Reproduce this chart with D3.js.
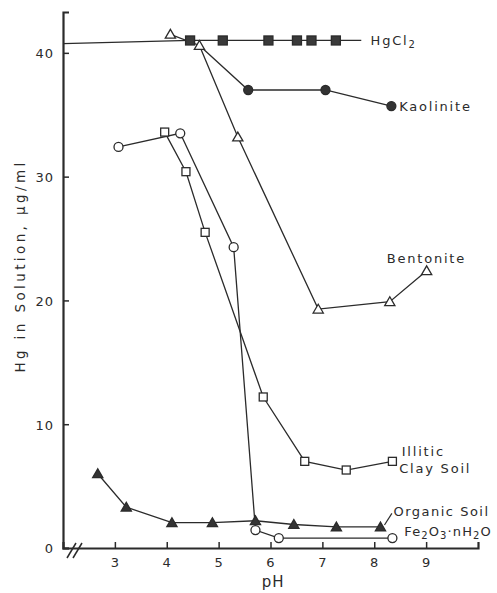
<!DOCTYPE html>
<html>
<head>
<meta charset="utf-8">
<script src="https://cdn.jsdelivr.net/npm/d3@7"></script>
<style>
  body { margin: 0; background: #fff; }
  text { font-family: "DejaVu Sans", sans-serif; fill: #2b2b2b; }
</style>
</head>
<body>
<div id="chart"></div>
<script>
// pH / Hg values
const hgcl2PH = [4.45, 5.08, 5.96, 6.51, 6.79, 7.26];
const hgcl2Val = [41.0, 41.0, 41.0, 41.0, 41.0, 41.0];
const hgcl2LinePH = [2.0, 4.45, 7.75];
const hgcl2LineVal = [40.75, 41.0, 41.0];

const kaolinitePH = [4.63, 5.57, 7.06, 8.33];
const kaoliniteVal = [40.6, 37.0, 37.0, 35.7];

const bentonitePH = [4.07, 4.63, 5.37, 6.92, 8.30, 9.01];
const bentoniteVal = [41.5, 40.6, 33.2, 19.3, 19.9, 22.4];

const illiticPH = [3.96, 4.37, 4.74, 5.86, 6.66, 7.46, 8.35];
const illiticVal = [33.6, 30.4, 25.5, 12.2, 7.0, 6.3, 7.0];

const ferricPH = [3.07, 4.26, 5.29, 5.71, 6.16, 8.35];
const ferricVal = [32.4, 33.5, 24.3, 1.45, 0.8, 0.8];

const organicPH = [2.67, 3.22, 4.10, 4.88, 5.71, 6.45, 7.27, 8.12];
const organicVal = [6.0, 3.3, 2.05, 2.05, 2.2, 1.9, 1.7, 1.7];

const xTicks = [3, 4, 5, 6, 7, 8, 9];
const yTicks = [0, 10, 20, 30, 40];

const margin = {top: 12, right: 19, bottom: 45, left: 63},
    width = 497 - margin.left - margin.right,
    height = 593 - margin.top - margin.bottom;

const x = d3.scaleLinear().domain([2, 10]).range([0, width]);
const y = d3.scaleLinear().domain([0, 43.3]).range([height, 0]);

const svg = d3.select("#chart").append("svg")
    .attr("width", width + margin.left + margin.right)
    .attr("height", height + margin.top + margin.bottom)
    .append("g")
    .attr("transform", "translate(" + margin.left + "," + margin.top + ")");

const ink = "#2b2b2b";
const zip = (a, b) => a.map((v, i) => [v, b[i]]);
const line = d3.line().x(d => x(d[0])).y(d => y(d[1]));

// Axes (ticks pointing inward)
const xAxis = svg.append("g")
    .attr("transform", "translate(0," + height + ")")
    .call(d3.axisBottom(x).tickValues(xTicks).tickSize(-6).tickPadding(10));
const yAxis = svg.append("g")
    .call(d3.axisLeft(y).tickValues(yTicks).tickSize(-6).tickPadding(9));

[xAxis, yAxis].forEach(a => {
  a.select(".domain").attr("stroke", ink).attr("stroke-width", 2.2);
  a.selectAll(".tick line").attr("stroke", ink).attr("stroke-width", 1.5);
  a.selectAll(".tick text").attr("font-size", 13).attr("fill", ink)
      .style("letter-spacing", "1px");
});
yAxis.selectAll(".tick text").attr("dy", "0.38em");

// axis break
[0, 6].forEach(off => {
  svg.append("line")
      .attr("x1", 4 + off).attr("y1", height + 10)
      .attr("x2", 13 + off).attr("y2", height - 5)
      .attr("stroke", ink).attr("stroke-width", 1.5);
});

// Axis titles
svg.append("text")
    .attr("x", x(6.05)).attr("y", height + 39)
    .attr("text-anchor", "middle").attr("font-size", 15)
    .style("letter-spacing", "1px")
    .text("pH");

svg.append("text")
    .attr("transform", "translate(" + (25 - margin.left) + "," + (266 - margin.top) + ") rotate(-90)")
    .attr("text-anchor", "middle").attr("font-size", 13.5)
    .style("letter-spacing", "3.4px")
    .text("Hg in Solution, μg/ml");

// Lines
const series = [
  zip(hgcl2LinePH, hgcl2LineVal),
  zip(kaolinitePH, kaoliniteVal),
  zip(bentonitePH, bentoniteVal),
  zip(illiticPH, illiticVal),
  zip(ferricPH, ferricVal),
  zip(organicPH, organicVal)
];
svg.selectAll(".series")
    .data(series)
    .enter().append("path")
    .attr("d", line)
    .attr("fill", "none")
    .attr("stroke", ink)
    .attr("stroke-width", 1.3);

// Markers
function squares(data, size, filled) {
  svg.selectAll(null).data(data).enter().append("rect")
      .attr("x", d => x(d[0]) - size / 2)
      .attr("y", d => y(d[1]) - size / 2)
      .attr("width", size).attr("height", size)
      .attr("fill", filled ? "#3a3a3a" : "#fff")
      .attr("stroke", ink).attr("stroke-width", 1.3);
}
function circles(data, r, filled) {
  svg.selectAll(null).data(data).enter().append("circle")
      .attr("cx", d => x(d[0])).attr("cy", d => y(d[1])).attr("r", r)
      .attr("fill", filled ? "#333" : "#fff")
      .attr("stroke", ink).attr("stroke-width", 1.3);
}
function triangles(data, s, filled) {
  const tri = d3.symbol().type(d3.symbolTriangle).size(s);
  svg.selectAll(null).data(data).enter().append("path")
      .attr("d", tri)
      .attr("transform", d => "translate(" + x(d[0]) + "," + (y(d[1]) + 1) + ")")
      .attr("fill", filled ? "#333" : "#fff")
      .attr("stroke", ink).attr("stroke-width", 1.3);
}

squares(zip(hgcl2PH, hgcl2Val), 9, true);
circles(zip(kaolinitePH, kaoliniteVal).slice(1), 4.5, true);
triangles(zip(bentonitePH, bentoniteVal), 45, false);
squares(zip(illiticPH, illiticVal), 8, false);
circles(zip(ferricPH, ferricVal), 4.5, false);
triangles(zip(organicPH, organicVal), 45, true);

// Series labels (subscripts shifted down with dy)
function label(px, val, parts, spacing) {
  const t = svg.append("text")
      .attr("x", x(px)).attr("y", y(val))
      .attr("dy", "0.35em")
      .attr("font-size", 13)
      .style("letter-spacing", (spacing || 1.8) + "px");
  let down = false;
  parts.forEach(p => {
    const s = t.append("tspan").text(p.t);
    if (p.sub) {
      s.attr("font-size", 10).attr("dy", down ? 0 : 3);
      down = true;
    } else if (down) {
      s.attr("dy", -3);
      down = false;
    }
  });
}
label(7.93, 41.0, [{t: "HgCl"}, {t: "2", sub: true}]);
label(8.48, 35.7, [{t: "Kaolinite"}]);
label(8.24, 23.4, [{t: "Bentonite"}]);
label(8.53, 7.8, [{t: "Illitic"}]);
label(8.48, 6.45, [{t: "Clay Soil"}]);
label(8.37, 2.95, [{t: "Organic Soil"}], 1.5);
label(8.58, 1.3, [{t: "Fe"}, {t: "2", sub: true}, {t: "O"}, {t: "3", sub: true}, {t: "·nH"}, {t: "2", sub: true}, {t: "O"}], 1.1);

// leader for Organic Soil
svg.append("line")
    .attr("x1", x(organicPH[7]) + 4).attr("y1", y(organicVal[7]) - 2)
    .attr("x2", x(8.34)).attr("y2", y(2.8))
    .attr("stroke", ink).attr("stroke-width", 1.2);
</script>
</body>
</html>
